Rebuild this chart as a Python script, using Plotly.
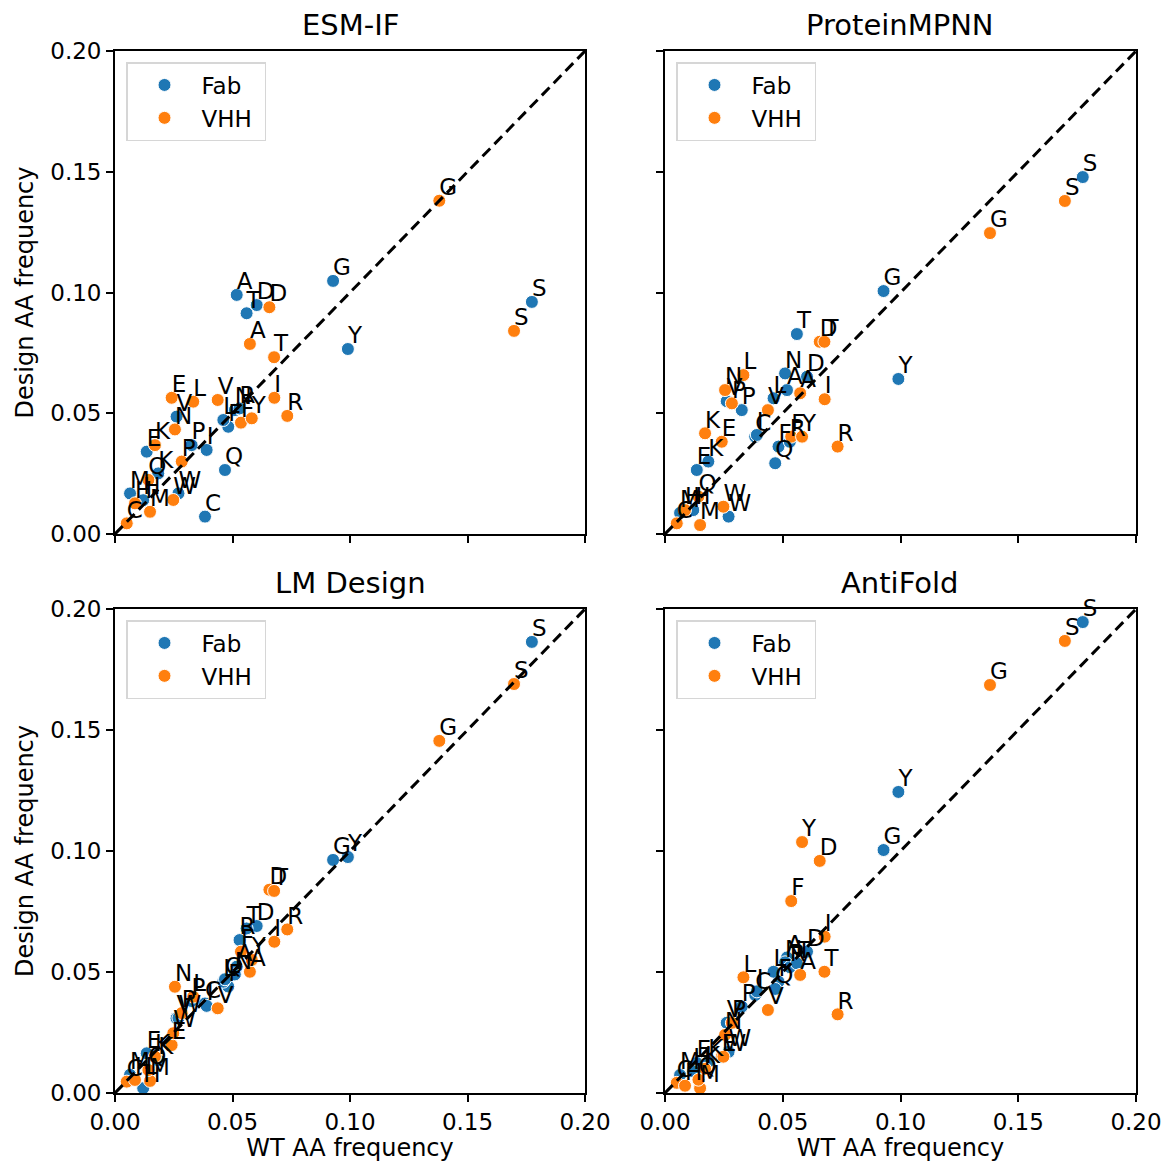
import plotly.graph_objects as go

aa = ["A", "C", "D", "E", "F", "G", "H", "I", "K", "L", "M", "N", "P", "Q", "R", "S", "T", "V", "W", "Y"]

wt_fab = [0.0518, 0.0383, 0.0603, 0.0135, 0.0482, 0.0928, 0.0120, 0.0390, 0.0184, 0.0461,
          0.0064, 0.0510, 0.0326, 0.0468, 0.0530, 0.1774, 0.0560, 0.0262, 0.0270, 0.0991]
wt_vhh = [0.0574, 0.0050, 0.0657, 0.0241, 0.0536, 0.1380, 0.0085, 0.0678, 0.0170, 0.0333,
          0.0149, 0.0255, 0.0284, 0.0142, 0.0733, 0.1698, 0.0677, 0.0437, 0.0248, 0.0582]

esmif_fab = [0.0990, 0.0072, 0.0948, 0.0341, 0.0444, 0.1048, 0.0140, 0.0348, 0.0251, 0.0472,
             0.0168, 0.0513, 0.0368, 0.0265, 0.0520, 0.0961, 0.0914, 0.0486, 0.0168, 0.0766]
esmif_vhh = [0.0787, 0.0044, 0.0939, 0.0564, 0.0461, 0.1380, 0.0127, 0.0564, 0.0368, 0.0548,
             0.0092, 0.0433, 0.0300, 0.0224, 0.0489, 0.0841, 0.0732, 0.0555, 0.0141, 0.0479]

mpnn_fab = [0.0596, 0.0403, 0.0651, 0.0265, 0.0362, 0.1006, 0.0099, 0.0410, 0.0300, 0.0562,
            0.0087, 0.0665, 0.0513, 0.0293, 0.0382, 0.1478, 0.0828, 0.0550, 0.0072, 0.0642]
mpnn_vhh = [0.0583, 0.0044, 0.0796, 0.0382, 0.0403, 0.1246, 0.0099, 0.0558, 0.0417, 0.0658,
            0.0037, 0.0596, 0.0541, 0.0155, 0.0362, 0.1379, 0.0796, 0.0513, 0.0113, 0.0403]

lmd_fab = [0.0522, 0.0370, 0.0690, 0.0164, 0.0440, 0.0963, 0.0020, 0.0360, 0.0136, 0.0460,
           0.0075, 0.0490, 0.0380, 0.0470, 0.0632, 0.1864, 0.0680, 0.0309, 0.0310, 0.0975]
lmd_vhh = [0.0501, 0.0047, 0.0840, 0.0198, 0.0584, 0.1455, 0.0054, 0.0625, 0.0150, 0.0398,
           0.0050, 0.0439, 0.0330, 0.0095, 0.0676, 0.1690, 0.0835, 0.0350, 0.0247, 0.0550]

anti_fab = [0.0560, 0.0405, 0.0584, 0.0124, 0.0460, 0.1004, 0.0090, 0.0420, 0.0130, 0.0501,
            0.0074, 0.0540, 0.0357, 0.0430, 0.0520, 0.1946, 0.0536, 0.0290, 0.0170, 0.1244]
anti_vhh = [0.0488, 0.0042, 0.0959, 0.0150, 0.0793, 0.1686, 0.0030, 0.0646, 0.0100, 0.0478,
            0.0020, 0.0240, 0.0290, 0.0055, 0.0325, 0.1868, 0.0501, 0.0343, 0.0150, 0.1037]

titles = ["ESM-IF", "ProteinMPNN", "LM Design", "AntiFold"]
designs = [(esmif_fab, esmif_vhh), (mpnn_fab, mpnn_vhh), (lmd_fab, lmd_vhh), (anti_fab, anti_vhh)]
ticks = [0.0, 0.05, 0.10, 0.15, 0.20]
diag = [0.0, 0.2]

W, H = 1166, 1165
FONT = "DejaVu Sans"
BLUE, ORANGE = "#1f77b4", "#ff7f0e"

# panel pixel boxes: (left, right, top, bottom)
boxes = [(115, 585, 51, 534), (665, 1136, 51, 534), (115, 585, 609, 1093), (665, 1136, 609, 1093)]

fig = go.Figure()
layout = {}
for i, (title, (dfab, dvhh)) in enumerate(zip(titles, designs)):
    n = i + 1
    xa = "x" if n == 1 else f"x{n}"
    ya = "y" if n == 1 else f"y{n}"
    lg = "legend" if n == 1 else f"legend{n}"
    l, r, t, b = boxes[i]
    left_col = i % 2 == 0
    bottom_row = i >= 2

    fig.add_trace(go.Scatter(x=wt_fab, y=dfab, mode="markers", name="Fab&nbsp;", xaxis=xa, yaxis=ya,
                             marker=dict(color=BLUE, size=13, line=dict(color="white", width=1)),
                             legend=lg, cliponaxis=False))
    fig.add_trace(go.Scatter(x=wt_vhh, y=dvhh, mode="markers", name="VHH&nbsp;", xaxis=xa, yaxis=ya,
                             marker=dict(color=ORANGE, size=13, line=dict(color="white", width=1)),
                             legend=lg, cliponaxis=False))
    fig.add_trace(go.Scatter(x=diag, y=diag, mode="lines", xaxis=xa, yaxis=ya, showlegend=False,
                             line=dict(color="black", width=3, dash="11px,6px"), hoverinfo="skip"))
    fig.add_trace(go.Scatter(x=wt_fab, y=dfab, mode="text", text=aa, textposition="top right",
                             textfont=dict(family=FONT, size=23, color="black"),
                             xaxis=xa, yaxis=ya, showlegend=False, cliponaxis=False))
    fig.add_trace(go.Scatter(x=wt_vhh, y=dvhh, mode="text", text=aa, textposition="top right",
                             textfont=dict(family=FONT, size=23, color="black"),
                             xaxis=xa, yaxis=ya, showlegend=False, cliponaxis=False))

    axcommon = dict(range=[0, 0.2], tickvals=ticks, tickformat=".2f", showgrid=False, zeroline=False,
                    showline=True, mirror=True, linecolor="black", linewidth=1.8,
                    ticks="outside", ticklen=7, tickwidth=1.8, tickcolor="black", automargin=False,
                    tickfont=dict(family=FONT, size=23, color="black"))
    xkey = "xaxis" if n == 1 else f"xaxis{n}"
    ykey = "yaxis" if n == 1 else f"yaxis{n}"
    layout[xkey] = dict(axcommon, domain=[l / W, r / W], anchor=ya, showticklabels=bottom_row,
                        title=dict(text="WT AA frequency" if bottom_row else "",
                                   font=dict(family=FONT, size=24, color="black"), standoff=6))
    layout[ykey] = dict(axcommon, domain=[1 - b / H, 1 - t / H], anchor=xa, showticklabels=left_col,
                        title=dict(text="Design AA frequency" if left_col else "",
                                   font=dict(family=FONT, size=24, color="black"), standoff=10))
    layout[lg] = dict(x=(l + 11) / W, y=1 - (t + 11) / H, xanchor="left", yanchor="top",
                      bgcolor="white", bordercolor="#d6d6d6", borderwidth=1.5,
                      font=dict(family=FONT, size=23, color="black"), itemwidth=64,
                      tracegroupgap=0)
    fig.add_annotation(text=title, x=(l + r) / 2 / W, y=1 - (t - 26) / H, xref="paper", yref="paper",
                       xanchor="center", yanchor="middle", showarrow=False,
                       font=dict(family=FONT, size=29, color="black"))

fig.update_layout(width=W, height=H, margin=dict(l=0, r=0, t=0, b=0),
                  paper_bgcolor="white", plot_bgcolor="white", **layout)
fig.write_html("out.html", config={"displayModeBar": False},
               post_script="document.body.style.margin='0';document.body.style.overflow='hidden';")
